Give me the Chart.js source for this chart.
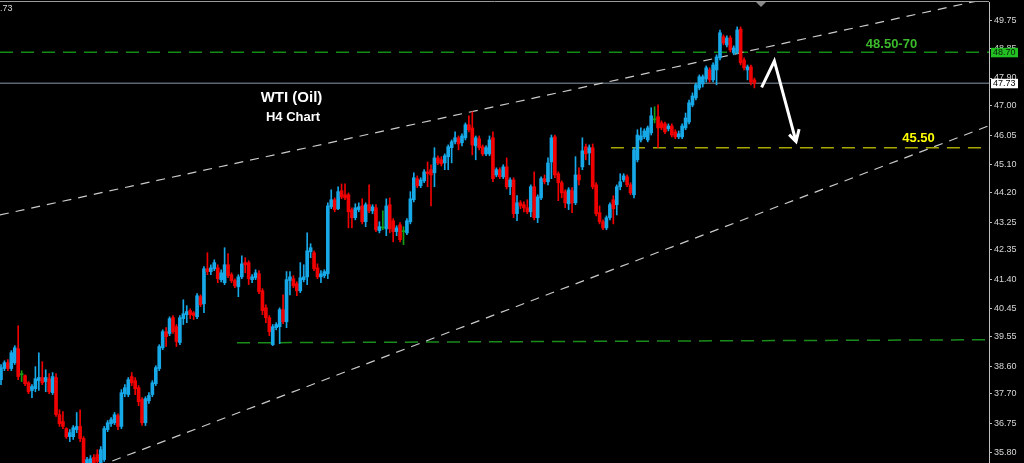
<!DOCTYPE html>
<html>
<head>
<meta charset="utf-8">
<script src="https://cdn.jsdelivr.net/npm/chart.js@4/dist/chart.umd.min.js"></script>
<style>
  html, body { margin:0; padding:0; background:#000; }
  #wrap { width:1024px; height:463px; position:relative; }
</style>
</head>
<body>
<div id="wrap"><canvas id="chart"></canvas></div>
<script>
// WTI (Oil) H4 candles, one value per bar
const openP = [38.16,38.52,38.71,38.52,38.71,39.16,38.32,38.29,38.06,37.81,
37.87,38.13,38.23,38.10,38.19,37.74,38.23,37.03,36.81,36.58,
36.32,36.32,36.55,36.65,36.26,35.48,35.48,35.65,35.74,35.48,
35.58,36.55,36.74,36.77,37.00,36.65,37.71,37.68,38.26,38.13,
37.90,37.52,36.77,37.48,37.68,38.03,38.52,39.19,39.71,39.65,
40.16,39.87,39.36,40.13,40.26,40.39,40.32,40.19,40.84,40.61,
41.74,41.65,41.74,41.77,41.39,41.29,41.87,41.55,41.36,41.16,
41.48,41.94,41.94,41.39,41.45,41.58,41.03,40.48,40.16,39.29,
39.84,39.87,40.42,40.03,41.36,41.42,41.26,41.03,41.39,41.48,
42.29,42.26,41.77,41.48,41.52,41.58,43.74,43.97,43.68,44.26,
44.13,44.13,43.65,43.39,43.65,43.77,43.26,43.81,43.61,43.71,
42.97,43.06,43.03,43.81,43.29,42.94,43.16,42.94,42.90,43.26,
43.97,44.65,44.42,44.58,44.87,44.94,44.84,45.32,45.26,45.16,
45.36,45.65,45.84,45.97,45.81,45.97,46.39,46.29,45.71,45.94,
45.68,45.45,45.45,45.97,44.77,44.94,44.71,45.03,44.39,44.61,
43.52,43.87,43.81,43.71,43.58,44.39,43.39,44.03,44.65,44.55,
45.19,46.00,44.81,44.52,44.23,43.84,44.26,43.87,44.77,45.03,
45.68,45.48,45.65,44.45,43.55,43.26,43.06,43.39,43.97,43.81,
44.39,44.61,44.71,44.45,44.13,45.26,45.90,46.00,45.90,46.13,
46.55,46.65,46.45,46.42,46.26,46.35,46.16,46.00,46.00,46.29,
46.48,47.03,47.26,47.58,47.71,47.87,48.16,47.84,48.16,48.55,
49.23,48.97,49.19,48.71,48.74,49.48,48.48,48.16,48.26,47.84];
const highP = [38.65,38.77,38.81,39.10,39.26,39.90,38.45,38.32,38.10,38.00,
38.58,39.03,38.74,38.48,38.36,38.39,38.36,37.19,37.13,36.61,
36.55,36.68,37.10,37.19,36.32,35.65,35.71,35.74,35.90,36.00,
36.65,36.84,36.94,37.10,37.06,37.84,38.00,38.23,38.39,38.23,
37.97,37.58,37.61,37.74,38.13,38.61,39.29,39.77,39.84,40.19,
40.23,39.94,40.23,40.74,40.55,40.45,40.36,40.94,40.90,41.81,
42.26,41.87,42.03,41.87,41.71,42.42,42.23,41.61,41.42,41.55,
42.16,42.10,42.00,41.55,41.71,41.68,41.10,40.58,40.23,39.94,
40.00,40.48,40.90,41.65,41.65,41.52,41.32,41.94,41.87,42.90,
42.55,42.32,41.90,41.68,41.71,43.87,44.29,44.03,44.39,44.48,
44.48,44.19,43.71,43.84,43.87,44.00,43.87,44.45,43.81,43.81,
43.26,43.61,44.00,44.03,43.36,43.13,43.23,43.10,43.36,44.23,
44.84,44.74,44.68,44.94,45.19,45.10,45.65,45.39,45.36,45.45,
45.74,45.90,46.16,46.03,46.10,46.45,46.68,46.81,46.03,46.03,
45.74,45.71,46.03,46.16,45.00,45.00,45.10,45.32,44.68,44.68,
44.10,43.94,43.90,43.97,44.45,44.87,44.13,44.71,44.77,45.32,
46.06,46.06,44.87,44.58,44.29,44.36,44.36,45.36,45.00,45.97,
45.77,45.74,45.77,44.52,43.77,43.32,43.45,43.87,44.10,44.45,
44.81,44.81,44.77,44.52,45.65,46.23,46.29,46.26,46.35,46.94,
46.97,47.03,46.52,46.48,46.42,46.42,46.23,46.19,46.42,46.77,
47.19,47.42,47.74,48.00,48.00,48.29,48.23,48.39,48.65,49.45,
49.29,49.26,49.26,48.94,49.55,49.55,48.55,48.32,48.32,47.90];
const lowP = [38.00,38.45,38.45,38.45,38.65,38.16,38.10,37.97,37.71,37.58,
37.77,37.81,38.00,37.77,37.71,37.68,36.97,36.65,36.58,36.26,
36.16,36.23,36.45,36.16,35.26,35.26,35.26,35.32,35.39,35.39,
35.52,36.48,36.65,36.71,36.55,36.58,37.61,37.61,37.97,37.68,
37.32,36.68,36.68,37.39,37.61,37.97,38.45,39.13,39.23,39.58,
39.65,39.23,39.29,39.94,40.00,40.13,40.10,40.13,40.52,40.32,
41.55,41.55,41.68,41.29,41.32,41.23,41.45,41.29,41.13,40.84,
41.42,41.61,41.23,41.29,41.39,40.94,40.26,40.00,39.58,39.26,
39.77,39.32,39.97,39.84,40.90,41.13,40.87,40.97,41.32,41.23,
42.10,41.68,41.42,41.29,41.45,41.42,43.68,43.58,43.65,44.00,
43.97,43.06,43.06,43.32,43.58,43.19,43.10,43.55,43.52,42.94,
42.90,43.00,42.81,42.90,42.61,42.81,42.61,42.52,42.84,43.19,
43.90,44.36,44.36,44.52,44.39,43.77,44.39,45.10,45.06,44.94,
44.94,45.16,45.77,45.58,45.71,45.90,46.16,45.42,45.26,45.58,
45.39,45.39,45.39,44.55,44.71,44.65,44.65,44.32,44.13,43.39,
43.29,43.68,43.58,43.52,43.42,43.32,43.23,43.97,44.48,44.45,
44.65,44.68,43.94,44.03,43.71,43.65,43.55,43.81,44.45,44.94,
45.26,45.10,44.32,43.45,43.19,43.00,43.00,43.32,43.19,43.48,
44.29,44.55,44.39,44.13,44.03,45.19,45.84,45.94,45.84,46.06,
46.45,45.65,46.23,46.10,46.19,46.00,45.94,45.94,45.94,46.23,
46.42,46.97,47.19,47.52,47.61,47.77,47.77,47.77,47.68,48.48,
48.97,48.90,48.74,48.65,48.68,48.32,48.16,47.84,47.68,47.58];
const closeP = [38.55,38.71,38.52,39.03,39.19,38.26,38.32,38.03,37.77,37.94,
38.19,38.23,38.06,38.23,37.77,38.26,37.03,36.74,36.65,36.32,
36.45,36.61,36.65,36.26,35.39,35.58,35.61,35.48,35.52,35.90,
36.58,36.77,36.87,37.03,36.65,37.74,37.90,38.16,38.06,37.87,
37.45,36.77,37.55,37.65,38.06,38.55,39.23,39.71,39.55,40.13,
39.71,39.39,40.16,40.29,40.36,40.26,40.23,40.87,40.58,41.74,
41.65,41.77,41.94,41.42,41.61,41.87,41.52,41.36,41.19,41.48,
41.90,41.87,41.42,41.48,41.61,41.00,40.39,40.16,39.71,39.87,
39.94,40.42,40.03,41.39,41.48,41.19,41.03,41.45,41.48,42.32,
42.42,41.74,41.48,41.58,41.65,43.77,43.97,43.65,44.23,44.06,
44.03,43.58,43.39,43.71,43.74,43.26,43.81,43.61,43.74,43.00,
43.10,43.06,43.77,43.03,42.94,43.06,42.68,42.94,43.29,44.00,
44.68,44.42,44.61,44.87,44.81,44.77,45.32,45.16,45.13,45.39,
45.68,45.84,45.97,45.77,46.03,46.39,46.23,45.74,45.97,45.65,
45.45,45.65,45.90,44.65,44.94,44.71,45.03,44.39,44.61,43.52,
43.87,43.77,43.71,43.58,44.39,43.39,44.06,44.65,44.55,45.16,
45.97,44.77,44.52,44.19,43.87,44.29,43.87,44.77,44.61,45.55,
45.45,45.65,44.39,43.52,43.26,43.06,43.39,43.81,43.68,44.39,
44.55,44.74,44.45,44.19,45.58,46.06,46.03,46.19,46.29,46.68,
46.55,46.29,46.29,46.16,46.35,46.06,46.00,46.10,46.35,46.61,
47.10,47.32,47.68,47.94,47.94,48.23,47.84,48.32,48.58,49.36,
49.03,49.19,48.81,48.87,49.45,48.39,48.23,48.26,47.77,47.73];

// right axis price labels
const priceTicks = [35.80,36.75,37.70,38.60,39.55,40.45,41.40,42.35,43.25,44.20,45.10,46.05,47.00,47.90,48.85,49.75];

// drawn lines (bar index, price)
const upperTrend = [[-0.29,43.48],[287.2,50.47]];
const lowerTrend = [[28,35.35],[287.2,46.36]];
const resistLine = [[-0.29,48.73],[287.2,48.73]];
const lastPriceLine = [[-0.29,47.73],[287.2,47.73]];
const targetLine = [[177.3,45.65],[287.2,45.65]];
const supportLine = [[68.6,39.35],[287.2,39.45]];
const arrowPath = [[221.1,47.60],[224.8,48.45],[231.1,45.85]];
const arrowHead = [[229.1,46.07],[231.1,45.85],[232.0,46.25]];
const lastPrice = 47.73;
const resistTag = 48.70;

const BULL = '#17a8e8', BEAR = '#f00000', DOJI = '#16a016';
const colors = openP.map((o,i)=> o===closeP[i] ? DOJI : (closeP[i]>o ? BULL : BEAR));
const wicks = openP.map((o,i)=>({x:i, y:[lowP[i], highP[i]]}));
const bodies = openP.map((o,i)=>({x:i, y:[Math.min(o,closeP[i]), Math.max(o,closeP[i])]}));
const pts = arr => arr.map(p=>({x:p[0], y:p[1]}));

function lineDs(arr, color, width, dash, order){
  return {type:'line', data:pts(arr), borderColor:color, borderWidth:width, borderDash:dash||[],
    pointRadius:0, fill:false, tension:0, order:order};
}

// extra text and tags drawn on top
const overlay = {
  id:'overlay',
  beforeDraw(chart){
    const c = chart.ctx;
    c.save(); c.fillStyle='#000'; c.fillRect(0,0,chart.width,chart.height); c.restore();
  },
  afterDraw(chart){
    const c = chart.ctx, y = chart.scales.y, a = chart.chartArea;
    c.save();
    // top border + shift marker
    c.strokeStyle='#9a9a9a'; c.lineWidth=1;
    c.beginPath(); c.moveTo(0,a.top-0.5); c.lineTo(a.right,a.top-0.5); c.stroke();
    c.fillStyle='#8a8a8a';
    c.beginPath(); c.moveTo(756,a.top); c.lineTo(766,a.top); c.lineTo(761,a.top+5); c.closePath(); c.fill();
    c.font='9px "Liberation Sans"'; c.fillStyle='#d8d8d8'; c.textBaseline='middle'; c.textAlign='left';
    c.fillText('.73',0,9);
    // price tags
    const tag = (val, bg, fg, text)=>{
      const py = y.getPixelForValue(val);
      c.fillStyle=bg; c.fillRect(a.right+2, py-4.5, 27, 9.5);
      c.fillStyle=fg; c.font='9px "Liberation Sans"'; c.textAlign='left'; c.textBaseline='middle';
      c.fillText(text, a.right+4, py+0.5);
    };
    tag(48.73, '#22c022', '#0a1a0a', resistTag.toFixed(2));
    tag(lastPrice, '#ffffff', '#000000', lastPrice.toFixed(2));
    // labels
    c.textAlign='center'; c.textBaseline='middle'; c.fillStyle='#ffffff';
    c.font='bold 15px "Liberation Sans"'; c.fillText('WTI (Oil)', 291.5, 98);
    c.font='bold 13px "Liberation Sans"'; c.fillText('H4 Chart', 293, 117);
    c.fillStyle='#3cba2c'; c.fillText('48.50-70', 891.5, 44.5);
    c.fillStyle='#ffff00'; c.fillText('45.50', 918.5, 138.5);
    c.restore();
  }
};

new Chart(document.getElementById('chart'), {
  type:'bar',
  data:{datasets:[
    lineDs(upperTrend,'rgba(225,225,225,0.9)',1.2,[9,7],5),
    lineDs(lowerTrend,'rgba(225,225,225,0.9)',1.2,[9,7],5),
    lineDs(resistLine,'#138c13',1.6,[13,8],5),
    lineDs(lastPriceLine,'#5c6670',1.5,[],5),
    lineDs(targetLine,'#a8a800',1.6,[13,8],5),
    lineDs(supportLine,'#1a8c1a',1.5,[13,8],5),
    {label:'wick', data:wicks, backgroundColor:colors, barThickness:1, grouped:false, order:3},
    {label:'body', data:bodies, backgroundColor:colors, barThickness:3, grouped:false, minBarLength:1, order:2},
    lineDs(arrowPath,'#ffffff',3,[],0),
    lineDs(arrowHead,'#ffffff',3,[],0)
  ]},
  options:{
    animation:false, responsive:true, maintainAspectRatio:false,
    layout:{padding:{top:2,left:0,right:0,bottom:0}},
    plugins:{legend:{display:false}, tooltip:{enabled:false}},
    scales:{
      x:{type:'linear', display:false, min:-0.29, max:287.2, offset:false, grid:{display:false}},
      y:{position:'right', min:35.47, max:50.354,
        afterBuildTicks:s=>{ s.ticks = priceTicks.map(v=>({value:v})); },
        afterFit:s=>{ s.width = 35; s.paddingTop = 0; s.paddingBottom = 0; },
        grid:{drawOnChartArea:false, drawTicks:true, tickLength:3, color:'#bfbfbf'},
        border:{display:true, color:'#bfbfbf', width:1},
        ticks:{autoSkip:false, padding:2, color:'#d8d8d8', font:{family:'Liberation Sans', size:9},
          callback:v=>Number(v).toFixed(2)}
      }
    }
  },
  plugins:[overlay]
});
</script>
</body>
</html>
